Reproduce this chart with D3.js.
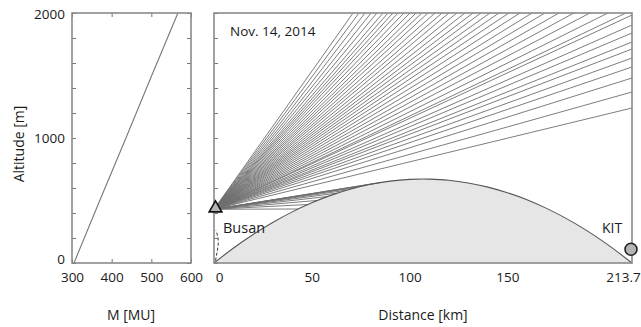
<!DOCTYPE html>
<html>
<head>
<meta charset="utf-8">
<script src="https://cdn.jsdelivr.net/npm/d3@7"></script>
<style>
  body { margin: 0; background: #fff; }
  text { font-family: "Open Sans", sans-serif; fill: #1a1a1a; }
</style>
</head>
<body>
<script>
// M profile (left panel)
let mAltitude = [0, 500, 1000, 1500, 2000];
let mValue = [305, 370, 436, 501, 567];

// earth bulge between Busan and KIT (right panel)
let groundDist = [0, 10, 20, 30, 40, 50, 60, 70, 80, 90, 100, 107, 110, 120, 130, 140, 150, 160, 170, 180, 190, 200, 213.7];
let groundAlt = [0, 120, 228, 324, 409, 482, 543, 592, 630, 655, 669, 672, 671, 662, 640, 607, 562, 506, 437, 357, 265, 161, 0];

// transmitter (Busan) and receiver (KIT)
let busan = { dist: 0, alt: 430 };
let kit = { dist: 213.7, alt: 110 };

// ray end points
let topHitDist = [71.1, 74.1, 77.2, 80.3, 83.3, 86.4, 89.0, 91.5, 94.1, 97.1, 100.2, 103.3, 106.3, 109.4, 113.0,
                  116.6, 120.1, 124.2, 128.3, 132.4, 136.5, 141.1, 145.7, 150.8, 156.4, 162.6, 169.2, 176.4,
                  184.0, 192.2, 201.4, 210.6];
let edgeHitAlt = [1984, 1904, 1840, 1768, 1712, 1640, 1568, 1480, 1368, 1240];
let groundHitDist = [43, 48, 53, 58, 63, 68, 73, 78, 82, 85];
let groundHitAlt = [432, 468, 501, 532, 559, 583, 604, 622, 636, 643];

// dashed trace near Busan
let dashDist = [0.8, 1.6, 2.2, 1.8, 1.0];
let dashAlt = [20, 90, 160, 220, 260];

let mTicks = [300, 400, 500, 600];
let distTicks = [0, 50, 100, 150, 213.7];
let altLabels = [0, 1000, 2000];

let width = 641,
    height = 327;

let plotTop = 13, plotBottom = 263;

let svg = d3.select('body')
            .append('svg')
            .attr('width', width)
            .attr('height', height);

let yscale = d3.scaleLinear()
               .domain([0, 2000])
               .range([plotBottom, plotTop]);

let mscale = d3.scaleLinear()
               .domain([300, 600])
               .range([72, 191]);

let xscale = d3.scaleLinear()
               .domain([0, 213.7])
               .range([214, 632]);

let minorAlt = d3.range(0, 2001, 200);

function cleanAxis(g) {
  g.select('.domain').remove();
  g.selectAll('.tick line').attr('stroke', '#777');
  g.selectAll('text').style('font-size', '13.5px').attr('fill', '#1a1a1a');
}

// ---------- left panel ----------
svg.append('g')
   .attr('transform', `translate(${mscale.range()[0]},0)`)
   .call(d3.axisLeft(yscale).tickValues(minorAlt).tickSize(-4).tickPadding(7)
          .tickFormat(d => altLabels.includes(d) ? d : ''))
   .call(cleanAxis)
   .selectAll('text')
   .attr('dy', d => d === 0 ? '0' : d === 2000 ? '0.4em' : '0.32em');

svg.append('g')
   .attr('transform', `translate(${mscale.range()[1]},0)`)
   .call(d3.axisRight(yscale).tickValues(minorAlt).tickSize(-4).tickFormat(''))
   .call(cleanAxis);

svg.append('g')
   .attr('transform', `translate(0,${plotBottom})`)
   .call(d3.axisBottom(mscale).tickValues(mTicks).tickSize(-4).tickPadding(9))
   .call(cleanAxis);

svg.append('g')
   .attr('transform', `translate(0,${plotTop})`)
   .call(d3.axisTop(mscale).tickValues(mTicks).tickSize(-4).tickFormat(''))
   .call(cleanAxis);

let mline = d3.line()
              .x((d, i) => mscale(mValue[i]))
              .y(d => yscale(d));

svg.append('path')
   .datum(mAltitude)
   .attr('d', mline)
   .attr('fill', 'none')
   .attr('stroke', '#777')
   .attr('stroke-width', 1.1);

svg.append('rect')
   .attr('x', mscale.range()[0])
   .attr('y', plotTop)
   .attr('width', mscale.range()[1] - mscale.range()[0])
   .attr('height', plotBottom - plotTop)
   .attr('fill', 'none')
   .attr('stroke', '#8a8a8a')
   .attr('stroke-width', 1.6);

// ---------- right panel ----------
svg.append('clipPath')
   .attr('id', 'plot')
   .append('rect')
   .attr('x', xscale.range()[0])
   .attr('y', plotTop)
   .attr('width', xscale.range()[1] - xscale.range()[0])
   .attr('height', plotBottom - plotTop);

let area = d3.area()
             .x(d => xscale(d))
             .y0(yscale(0))
             .y1((d, i) => yscale(groundAlt[i]))
             .curve(d3.curveMonotoneX);

let ground = d3.line()
               .x(d => xscale(d))
               .y((d, i) => yscale(groundAlt[i]))
               .curve(d3.curveMonotoneX);

svg.append('path')
   .datum(groundDist)
   .attr('d', area)
   .attr('fill', '#e6e6e6');

// rays
let rays = [];
topHitDist.forEach(d => rays.push([busan, { dist: d, alt: 2000 }]));
edgeHitAlt.forEach(a => rays.push([busan, { dist: 213.7, alt: a }]));
groundHitDist.forEach((d, i) => rays.push([busan, { dist: d, alt: groundHitAlt[i] }]));

let rayline = d3.line()
                .x(d => xscale(d.dist))
                .y(d => yscale(d.alt));

svg.append('g')
   .attr('clip-path', 'url(#plot)')
   .selectAll('path')
   .data(rays)
   .join('path')
   .attr('d', rayline)
   .attr('fill', 'none')
   .attr('stroke', '#6e6e6e')
   .attr('stroke-width', 0.9);

svg.append('path')
   .datum(groundDist)
   .attr('d', ground)
   .attr('fill', 'none')
   .attr('stroke', '#555')
   .attr('stroke-width', 1.1);

svg.append('path')
   .datum(dashDist)
   .attr('d', d3.line().x(d => xscale(d)).y((d, i) => yscale(dashAlt[i])).curve(d3.curveNatural))
   .attr('fill', 'none')
   .attr('stroke', '#333')
   .attr('stroke-width', 1)
   .attr('stroke-dasharray', '3,2');

svg.append('g')
   .attr('transform', `translate(${xscale.range()[0]},0)`)
   .call(d3.axisLeft(yscale).tickValues(minorAlt).tickSize(-4).tickFormat(''))
   .call(cleanAxis);

let xaxis = svg.append('g')
               .attr('transform', `translate(0,${plotBottom})`)
               .call(d3.axisBottom(xscale).tickValues(distTicks).tickSize(0).tickPadding(9)
                      .tickFormat(d => d))
               .call(cleanAxis);

xaxis.selectAll('text')
     .attr('dx', d => d === 0 ? 5 : d === 213.7 ? -9 : 0);

svg.append('rect')
   .attr('x', xscale.range()[0])
   .attr('y', plotTop)
   .attr('width', xscale.range()[1] - xscale.range()[0])
   .attr('height', plotBottom - plotTop)
   .attr('fill', 'none')
   .attr('stroke', '#8a8a8a')
   .attr('stroke-width', 1.6);

// markers
svg.append('path')
   .attr('d', d3.symbol(d3.symbolTriangle, 70)())
   .attr('transform', `translate(${xscale(busan.dist) + 1.5},${yscale(busan.alt) - 1})`)
   .attr('fill', '#b4b4b4')
   .attr('stroke', '#111')
   .attr('stroke-width', 1.6);

svg.append('circle')
   .attr('cx', xscale(kit.dist) - 1)
   .attr('cy', yscale(kit.alt))
   .attr('r', 6)
   .attr('fill', '#b4b4b4')
   .attr('stroke', '#222')
   .attr('stroke-width', 1.6);

// labels
svg.append('text')
   .text('Busan')
   .attr('x', 223)
   .attr('y', 233)
   .style('font-size', '14.5px');

svg.append('text')
   .text('KIT')
   .attr('x', 602)
   .attr('y', 233)
   .style('font-size', '14px');

svg.append('text')
   .text('Nov. 14, 2014')
   .attr('x', 230)
   .attr('y', 36)
   .style('font-size', '13.5px');

svg.append('text')
   .text('Altitude [m]')
   .attr('transform', 'translate(24,144) rotate(-90)')
   .attr('text-anchor', 'middle')
   .style('font-size', '14px');

svg.append('text')
   .text('M [MU]')
   .attr('x', 131)
   .attr('y', 320)
   .attr('text-anchor', 'middle')
   .style('font-size', '14px');

svg.append('text')
   .text('Distance [km]')
   .attr('x', 423)
   .attr('y', 320)
   .attr('text-anchor', 'middle')
   .style('font-size', '14px');
</script>
</body>
</html>
